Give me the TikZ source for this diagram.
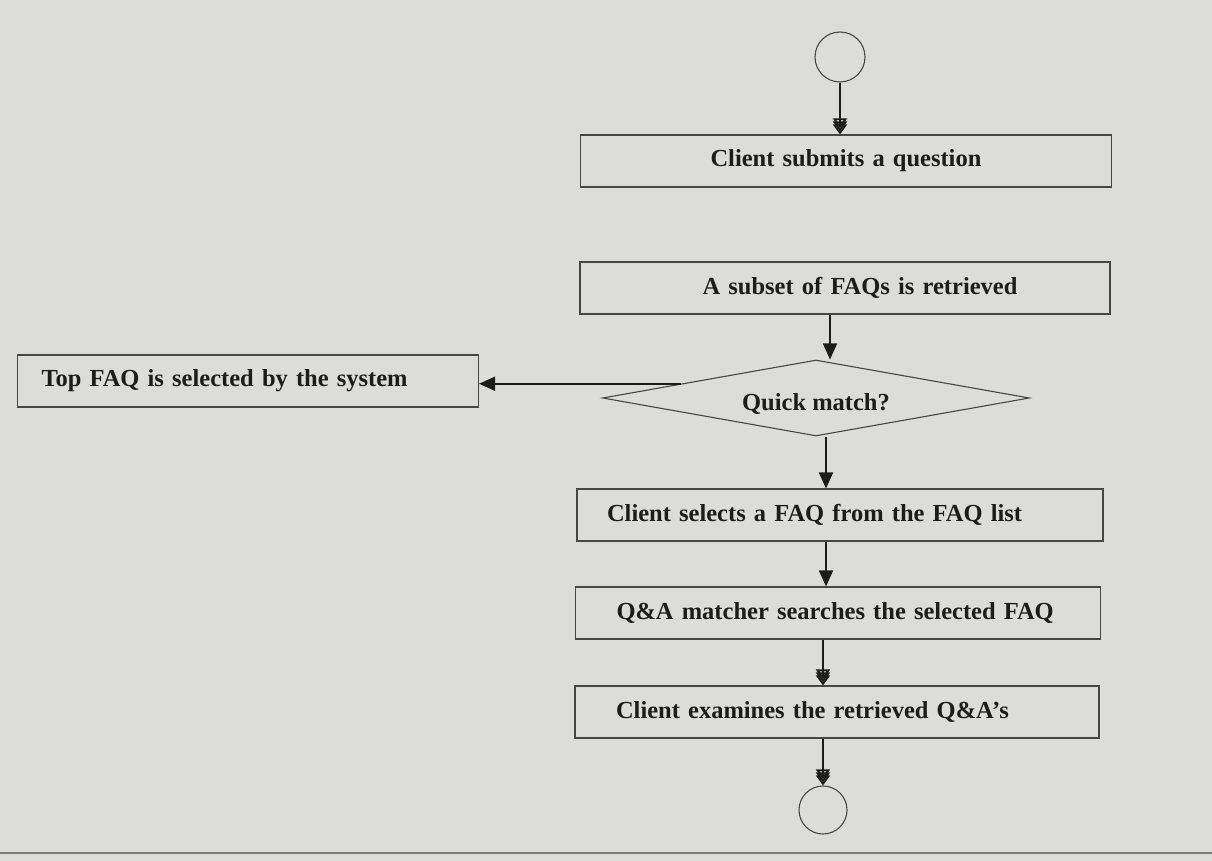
\documentclass[tikz,border=0pt]{standalone}
\usepackage{fontspec}
\setmainfont{Liberation Serif}
\usetikzlibrary{shapes.geometric,arrows.meta,calc}
\definecolor{bg}{RGB}{220,220,218}
\definecolor{ink}{RGB}{28,28,28}
\definecolor{edge}{RGB}{70,70,70}
\tikzset{
  hatch/.tip={Triangle[open,length=10pt,width=14pt,sep=-7pt]Triangle[open,length=10pt,width=14pt,sep=-7pt]Triangle[open,length=10pt,width=14pt]},
  solidtip/.tip={Triangle[length=16pt,width=14pt]},
  box/.style={draw=edge, line width=1.1pt, minimum height=52pt, inner ysep=0pt, inner xsep=0pt,
    font=\fontsize{24.5}{28}\selectfont\bfseries, text=ink},
  cbox/.style={box, text width=#1, align=center},
  lbox/.style={box, text width=#1, align=left},
  endpt/.style={circle, draw=edge, line width=1.1pt, minimum size=50pt, inner sep=0pt},
  flow/.style={draw=ink, line width=1.8pt},
}
\begin{document}
\begin{tikzpicture}[x=1pt,y=-1pt]
  \fill[bg] (0,0) rectangle (1212,861);
  \useasboundingbox (0,0) rectangle (1212,861);
  \draw[line width=2pt, edge!70] (0,853) -- (1212,853);

  % nodes
  \node[endpt] (c1) at (840,57) {};
  \node[cbox=531pt] (b1) at (846,161) {Client submits a question};
  \node[cbox=530pt] (b2) at (845,288) {\hspace*{30pt}A subset of FAQs is retrieved};
  \node[diamond, aspect=5.62, draw=edge, line width=1.1pt, minimum width=427pt, minimum height=76pt, inner sep=0pt,
        font=\fontsize{24.5}{28}\selectfont\bfseries, text=ink] (q) at (816,398) {\raisebox{-12pt}[0pt][0pt]{Quick match?}};
  \node[lbox=461pt] (lb) at (248,381) {\hspace*{24pt}Top FAQ is selected by the system};
  \node[lbox=526pt] (b3) at (840,515) {\hspace*{30pt}Client selects a FAQ from the FAQ list};
  \node[lbox=525pt] (b4) at (838,613) {\hspace*{41pt}Q\&A matcher searches the selected FAQ};
  \node[lbox=524pt] (b5) at (837,712) {\hspace*{41pt}Client examines the retrieved Q\&A's};
  \node[endpt, minimum size=48pt] (c2) at (823,810) {};

  % arrow columns
  \coordinate (x2) at (830,0);
  \coordinate (x3) at (826,0);
  \coordinate (x4) at (823,0);
  \coordinate (qa) at ($(q.west)!0.37!(q.north)$);

  % connectors
  \draw[flow, -{hatch}] (c1.south) -- (c1.south |- b1.north);
  \draw[flow, -{solidtip}] (b2.south -| x2) -- (q.north -| x2);
  \draw[flow, -{solidtip}] (qa) -- (qa -| lb.east);
  \draw[flow, -{solidtip}] (q.south -| x3) -- (b3.north -| x3);
  \draw[flow, -{solidtip}] (b3.south -| x3) -- (b4.north -| x3);
  \draw[flow, -{hatch}] (b4.south -| x4) -- (b5.north -| x4);
  \draw[flow, -{hatch}] (b5.south -| x4) -- (c2.north);
\end{tikzpicture}
\end{document}
